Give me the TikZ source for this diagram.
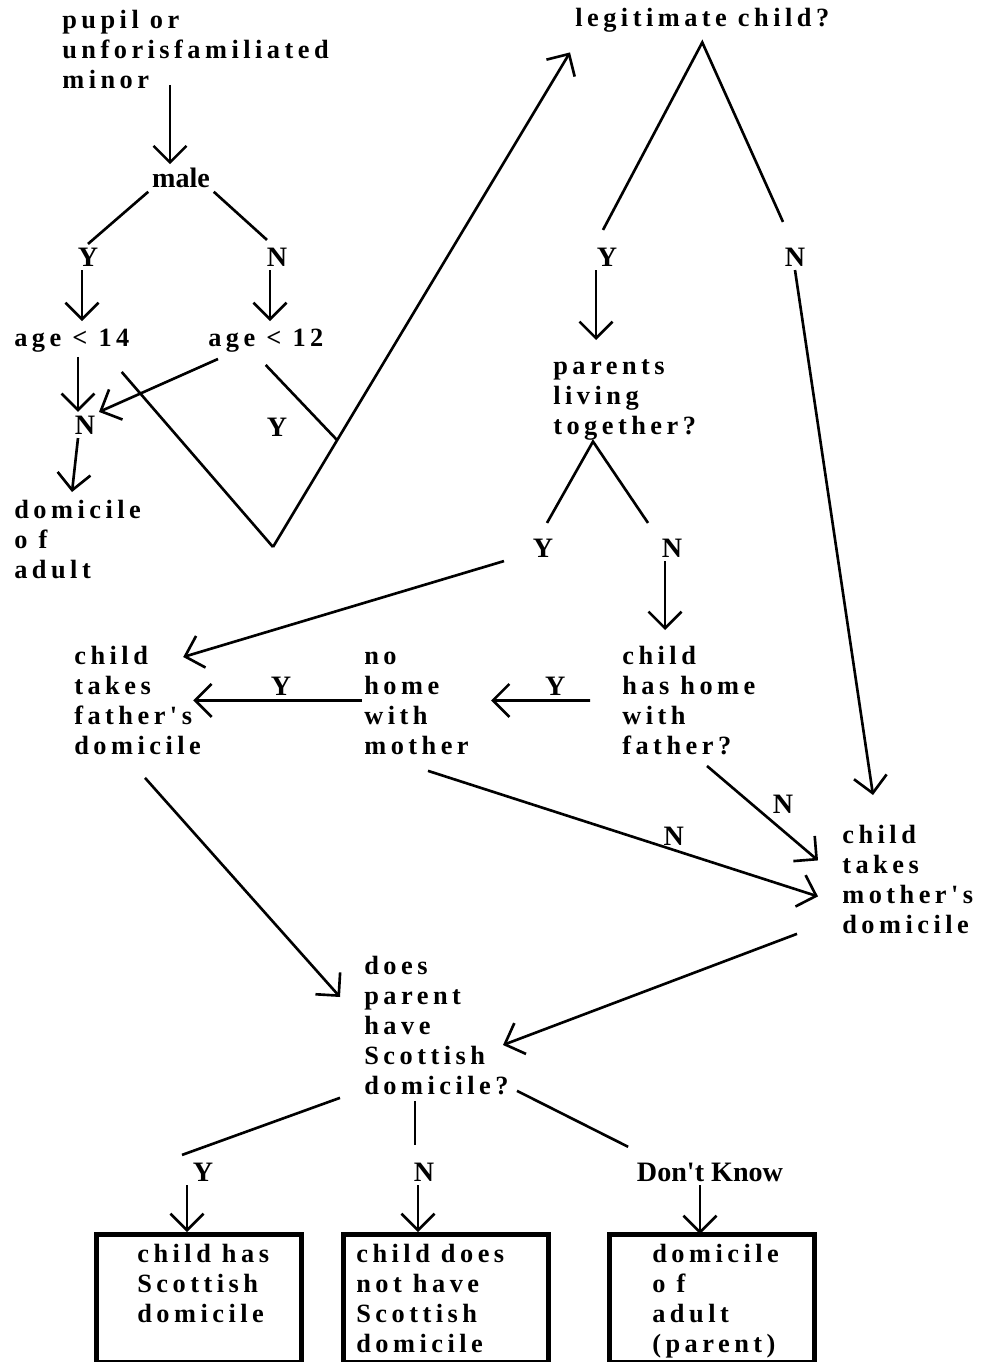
\documentclass[tikz,border=0pt]{standalone}
\usepackage{fontspec}
\setmainfont{Liberation Serif}
\newfontfamily\spacedfont[LetterSpace=17]{Liberation Serif}
\usetikzlibrary{arrows.meta}
\usetikzlibrary{calc}

\tikzset{
    txt/.style={inner sep=0pt, anchor=north west, align=left,
        font=\spacedfont\bfseries\fontsize{15}{17}\selectfont},
    lbl/.style={inner sep=2pt, font=\bfseries\fontsize{16}{18}\selectfont},
    ln/.style={line width=1.5pt},
    arr/.style={ln, -{Straight Barb[length=3.3mm, width=6.6mm]}},
    outbox/.style={draw, line width=2.6pt, anchor=north west,
        minimum width=4.1cm, minimum height=2.56cm, inner sep=0pt}
}

\begin{document}
\begin{tikzpicture}[x=0.02cm, y=-0.02cm]
            \useasboundingbox (0, 0) rectangle (988, 1362);

            % left branch: age test
            \node[txt] (pupil) at (62, 10) {pupil or\\unforisfamiliated\\minor};
            \node[lbl] (male) at (181, 178) {male};
            \node[lbl] (maleY) at (88, 257) {Y};
            \node[lbl] (maleN) at (277, 257) {N};
            \node[txt, anchor=west] (age14) at (14, 341) {age < 14};
            \node[txt, anchor=west] (age12) at (208, 341) {age < 12};
            \node[lbl] (ageN) at (85, 425) {N};
            \node[lbl] (ageY) at (277, 427) {Y};
            \node[txt] (adult) at (14, 500) {domicile\\o f\\adult};

            % legitimacy
            \node[txt, anchor=west] (legit) at (575, 20) {legitimate child?};
            \node[lbl] (legY) at (607, 257) {Y};
            \node[lbl] (legN) at (795, 257) {N};
            \node[txt] (parents) at (553, 356) {\vphantom{h}parents\\living\\together?};
            \node[lbl] (parY) at (543, 548) {Y};
            \node[lbl] (parN) at (672, 548) {N};

            \node[txt] (father) at (74, 646) {child\\takes\\father's\\domicile};
            \node[txt] (nohome) at (364, 646) {\vphantom{h}no\\home\\with\\mother};
            \node[txt] (hashome) at (622, 646) {child\\has home\\with\\father?};
            \node[txt] (mother) at (842, 825) {child\\takes\\mother's\\domicile};

            % scottish domicile
            \node[txt] (scot) at (364, 956) {does\\parent\\have\\Scottish\\domicile?};
            \node[lbl] (scotY) at (203, 1172) {Y};
            \node[lbl] (scotN) at (424, 1172) {N};
            \node[lbl] (scotDK) at (710, 1172) {Don\textquotesingle t Know};

            \node[outbox] (boxY) at (94, 1232) {};
            \node[outbox] (boxN) at (341, 1232) {};
            \node[outbox] (boxDK) at (607, 1232) {};
            \node[txt] (boxYtxt) at (137, 1244) {child has\\Scottish\\domicile};
            \node[txt] (boxNtxt) at (356, 1244) {child does\\not have\\Scottish\\domicile};
            \node[txt] (boxDKtxt) at (652, 1244) {domicile\\o f\\adult\\(parent)};

            % connectors
            \draw[arr] ($(male.north |- pupil.south)+(-11, -4)$) to ($(male.north)+(-11, 0)$);
            \draw[ln] (male.south west) to (maleY.north);
            \draw[ln] (male.south east) to ($(maleN.north)+(-10, -4)$);
            \draw[arr] ($(maleY.south)+(-6, 0)$) to ($(maleY.south |- age14.north)+(-6, -8)$);
            \draw[arr] ($(maleN.south)+(-7, 0)$) to ($(maleN.south |- age12.north)+(-7, -8)$);
            \draw[arr] ($(ageN.north |- age14.south)+(-7, 4)$) to ($(ageN.north)+(-7, 0)$);
            \draw[arr] ($(age12.south west)+(10, 6)$) to ($(ageN.north east)+(0, 0)$);
            \draw[arr] ($(ageN.south)+(-7, 0)$) to ($(ageN.south |- adult.north)+(-13, -8)$);

            \coordinate (vtip) at (273, 547);
            \coordinate (vend) at ($(legit.south west)+(-5, 20)$);
            \coordinate (vjoin) at ($(vtip)!0.216!(vend)$);
            \draw[ln] ($(age14.south east)+(-8, 19)$) to (vtip);
            \draw[arr] (vtip) to (vend);
            \draw[ln] ($(age12.south east)+(-58, 12)$) to (vjoin);

            \draw[ln] ($(legY.north)+(-4, -14)$) to ($(legit.south)+(0, 10)$) to ($(legN.north)+(-12, -22)$);
            \draw[arr] ($(legY.south)+(-11, 0)$) to ($(legY.south |- parents.north)+(-11, -16)$);
            \draw[ln] ($(parY.north)+(4, -12)$) to ($(parents.south west)+(40, 1)$) to ($(parN.north)+(-24, -12)$);
            \draw[arr] ($(parY.south west)+(-25, 0)$) to ($(father.north east)+(-18, 11)$);
            \draw[arr] ($(parN.south)+(-7, 0)$) to ($(parN.south |- hashome.north)+(-7, -16)$);

            \draw[arr] ($(hashome.west)+(-32, 0)$) to node[lbl, above, pos=0.35] (lblhome) {Y} ($(nohome.east)+(22, 0)$);
            \draw[arr] ($(nohome.west)+(-2, 0)$) to node[lbl, above, pos=0.48] (lblfather) {Y} ($(father.east)+(-8, 0)$);
            \draw[arr] (legN.south) to ($(mother.north west)+(31, -30)$);
            \draw[arr] ($(hashome.south west)+(85, 11)$) to node[lbl, above right, pos=0.55] (lblhas) {N} ($(mother.west)+(-24, -19)$);
            \draw[arr] ($(nohome.south west)+(64, 16)$) to node[lbl, above, pos=0.63] (lblno) {N} ($(mother.west)+(-24, 17)$);

            \draw[arr] ($(father.south west)+(71, 23)$) to ($(scot.north west)+(-24, 41)$);
            \draw[arr] ($(mother.south west)+(-45, 0)$) to ($(scot.north west)+(139, 89)$);

            \draw[ln] ($(scot.south west)+(-24, 3)$) to ($(scotY.north)+(-21, -4)$);
            \draw[ln] ($(scotN.north |- scot.south)+(-9, 6)$) to ($(scotN.north)+(-9, -14)$);
            \draw[ln] ($(scot.south west)+(153, -4)$) to ($(scotDK.north west)+(-5, -12)$);
            \draw[arr] ($(scotY.south)+(-16, 0)$) to ($(scotY.south |- boxY.north)+(-16, 0)$);
            \draw[arr] ($(scotN.south)+(-6, 0)$) to ($(scotN.south |- boxN.north)+(-6, 0)$);
            \draw[arr] ($(scotDK.south)+(-10, 0)$) to ($(scotDK.south |- boxDK.north)+(-10, 2)$);
        \end{tikzpicture}
\end{document}
